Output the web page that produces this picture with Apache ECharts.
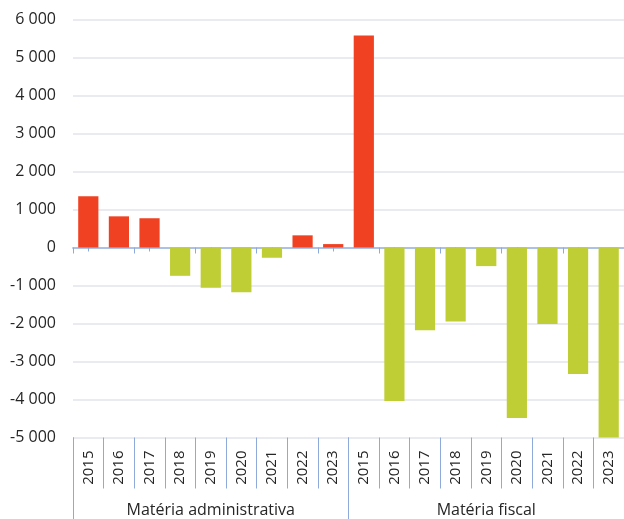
<!DOCTYPE html>
<html>
    <head>
        <meta charset="utf-8">
        <title>Matéria administrativa / Matéria fiscal</title>
        <style>
            html, body { margin: 0; padding: 0; background: #fff; }
            #chart1 { width: 624px; height: 519px; }
        </style>
    </head>
    <body>
        <div id="chart1"></div>
    </body>
    <script src="https://cdn.jsdelivr.net/npm/echarts@6/dist/echarts.min.js"></script>
    <script type="text/javascript">
        // 数据
        const years = ['2015', '2016', '2017', '2018', '2019', '2020', '2021', '2022', '2023',
                       '2015', '2016', '2017', '2018', '2019', '2020', '2021', '2022', '2023'];
        const groups = ['Matéria administrativa', 'Matéria fiscal'];
        const groupSize = 9;
        const values = [1350, 820, 770, -745, -1060, -1175, -270, 320, 90,
                        5580, -4040, -2180, -1945, -490, -4485, -2015, -3330, -5000];
        const yTicks = [-5000, 6000, 1000]; // min, max, interval

        const posColor = '#F04223';
        const negColor = '#BFCE34';
        const blue = '#8EAADB';
        const font = '"Open Sans", sans-serif';

        // 千位空格
        function fmt(v) {
            let s = Math.abs(v).toString().replace(/\B(?=(\d{3})+(?!\d))/g, ' ');
            return (v < 0 ? '-' : '') + s;
        }

        let myChart1 = echarts.init(document.getElementById('chart1'));

        const gridBox = { left: 73, top: 19.5, width: 555.3, height: 418 };

        myChart1.setOption({
            animation: false,
            grid: [gridBox, gridBox],
            xAxis: [
                {   // 零线 + 分界刻度
                    type: 'category', data: years, position: 'bottom',
                    axisLine: { onZero: true, lineStyle: { color: '#A9BEE6', width: 1.5 } },
                    axisTick: { show: true, length: 6, lineStyle: { color: blue } },
                    axisLabel: { show: false },
                    splitLine: { show: false }
                },
                {   // 零线 中间刻度（第二个 grid）
                    type: 'category', data: years, gridIndex: 1, position: 'bottom',
                    axisLine: { onZero: true, lineStyle: { color: '#A9BEE6', width: 1.5 } },
                    axisTick: { show: true, alignWithLabel: true, length: 4, lineStyle: { color: blue } },
                    axisLabel: { show: false },
                    splitLine: { show: false }
                },
                {   // 年份
                    type: 'category', data: years, position: 'bottom', offset: 0,
                    axisLine: { show: false, onZero: false },
                    axisTick: { show: true, length: 51, lineStyle: { color: blue } },
                    axisLabel: { rotate: 90, margin: 13, fontFamily: font, fontSize: 15, color: '#262626', interval: 0 },
                    splitLine: { show: false }
                },
                {   // 分组
                    type: 'category', data: years, position: 'bottom', offset: 0,
                    axisLine: { show: false, onZero: false },
                    axisTick: {
                        show: true, length: 90, lineStyle: { color: blue },
                        interval: (i) => i % groupSize === 0
                    },
                    axisLabel: {
                        margin: 65, fontFamily: font, fontSize: 16, color: '#262626',
                        interval: (i) => i % groupSize === Math.floor(groupSize / 2),
                        formatter: (v, i) => groups[Math.floor(i / groupSize)]
                    },
                    splitLine: { show: false }
                }
            ],
            yAxis: [
                {
                    type: 'value',
                    min: yTicks[0], max: yTicks[1], interval: yTicks[2],
                    axisLine: { show: false },
                    axisTick: { show: false },
                    axisLabel: { formatter: fmt, fontFamily: font, fontSize: 16, color: '#262626', margin: 17 },
                    splitLine: { lineStyle: { color: '#E3E5EC', width: 1.5 } }
                },
                {
                    type: 'value', gridIndex: 1,
                    min: yTicks[0], max: yTicks[1], interval: yTicks[2],
                    axisLine: { show: false },
                    axisTick: { show: false },
                    axisLabel: { show: false },
                    splitLine: { show: false }
                }
            ],
            series: [{
                type: 'bar',
                data: values,
                barCategoryGap: '34%',
                itemStyle: {
                    color: (p) => p.value >= 0 ? posColor : negColor
                }
            }]
        });
    </script>
</html>
